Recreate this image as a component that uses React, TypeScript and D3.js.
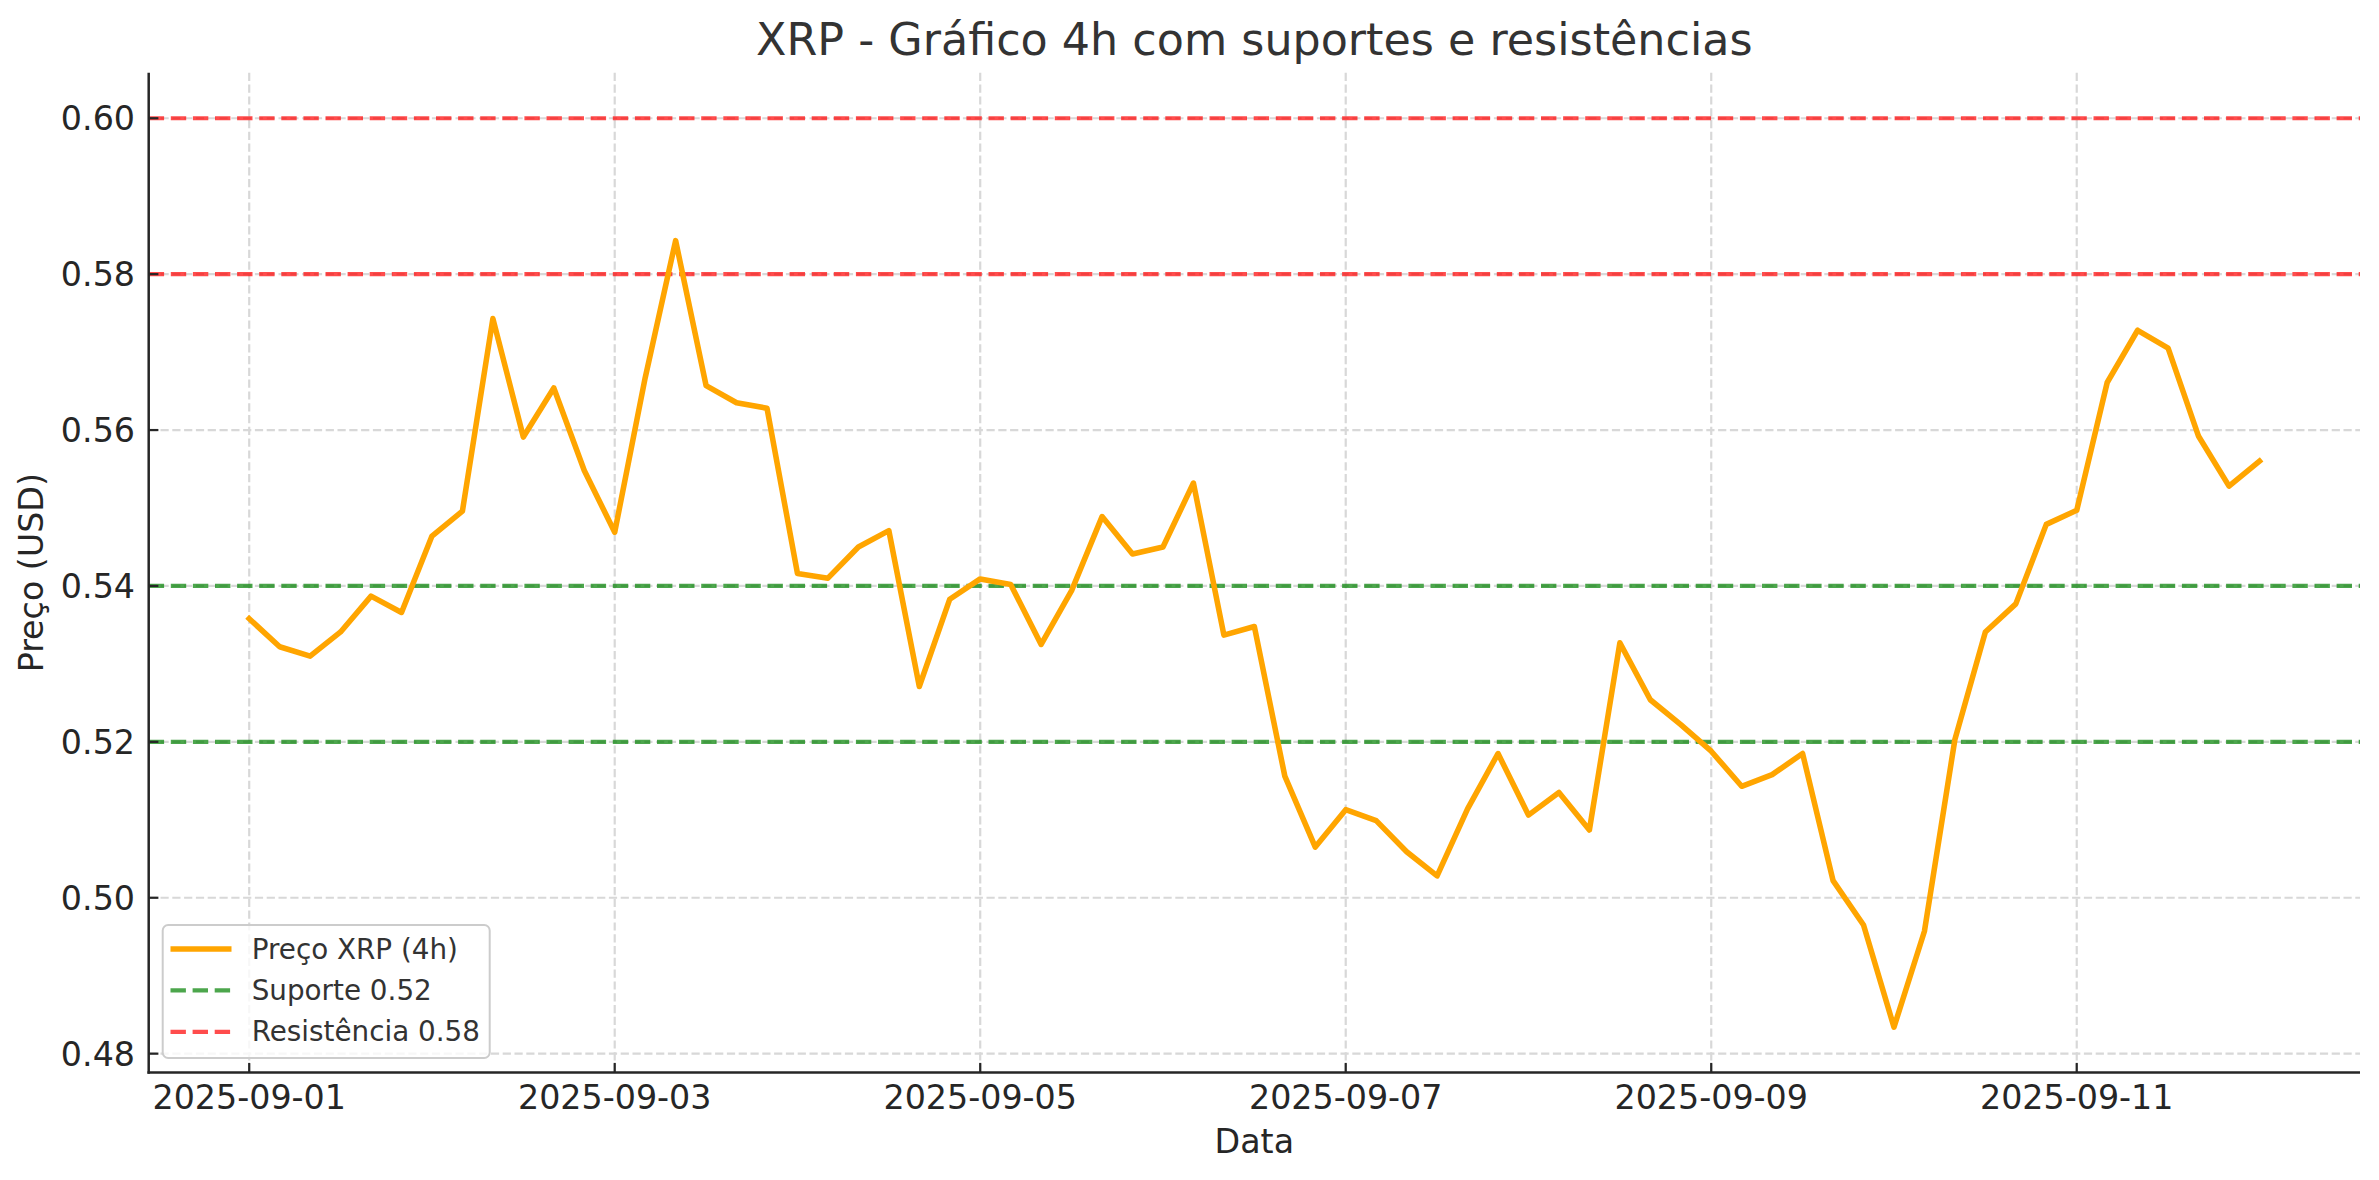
import React from 'react';
import * as d3 from 'd3';

// ---------- data ----------
const START_DATE = '2025-09-01T00:00:00Z';
const STEP_HOURS = 4;

const prices: number[] = [
  0.5358, 0.5322, 0.5310, 0.5341, 0.5387, 0.5366, 0.5464, 0.5496, 0.5743, 0.5591,
  0.5654, 0.5548, 0.5469, 0.5667, 0.5843, 0.5657, 0.5635, 0.5628, 0.5416, 0.5410,
  0.5450, 0.5471, 0.5271, 0.5383, 0.5409, 0.5402, 0.5325, 0.5394, 0.5489, 0.5441,
  0.5450, 0.5532, 0.5337, 0.5348, 0.5156, 0.5065, 0.5113, 0.5099, 0.5059, 0.5028,
  0.5114, 0.5185, 0.5106, 0.5135, 0.5087, 0.5327, 0.5254, 0.5222, 0.5188, 0.5143,
  0.5158, 0.5185, 0.5022, 0.4965, 0.4834, 0.4957, 0.5203, 0.5341, 0.5377, 0.5479,
  0.5497, 0.5661, 0.5728, 0.5705, 0.5592, 0.5528, 0.5560,
];

const supportLevels: number[] = [0.52, 0.54];
const resistanceLevels: number[] = [0.58, 0.60];

const xTickLabels: string[] = [
  '2025-09-01', '2025-09-03', '2025-09-05', '2025-09-07', '2025-09-09', '2025-09-11',
];
const yTickValues: number[] = [0.48, 0.5, 0.52, 0.54, 0.56, 0.58, 0.6];

const legendLabels: string[] = ['Preço XRP (4h)', 'Suporte 0.52', 'Resistência 0.58'];

const TITLE = 'XRP - Gráfico 4h com suportes e resistências';
const X_LABEL = 'Data';
const Y_LABEL = 'Preço (USD)';

// ---------- layout ----------
const W = 2379;
const H = 1180;
const PLOT = { left: 148.7, right: 2360, top: 72.8, bottom: 1072.6 };
const FONT = "'DejaVu Sans', 'Liberation Sans', sans-serif";

const ORANGE = '#FFA500';
const GREEN = '#008000';
const RED = '#FF0000';

export default function App() {
  const start = new Date(START_DATE);
  const dates = prices.map((_, i) => d3.utcHour.offset(start, i * STEP_HOURS));
  const points = dates.map((d, i) => ({ d, v: prices[i] }));

  const xMin = dates[0].getTime();
  const xMax = dates[dates.length - 1].getTime();
  const xPad = (xMax - xMin) * 0.05;
  const x = d3
    .scaleUtc()
    .domain([new Date(xMin - xPad), new Date(xMax + xPad)])
    .range([PLOT.left, PLOT.right]);

  const allY = [...prices, ...supportLevels, ...resistanceLevels];
  const yMinV = d3.min(allY) as number;
  const yMaxV = d3.max(allY) as number;
  const yPad = (yMaxV - yMinV) * 0.05;
  const y = d3
    .scaleLinear()
    .domain([yMinV - yPad, yMaxV + yPad])
    .range([PLOT.bottom, PLOT.top]);

  const parse = d3.utcParse('%Y-%m-%d');
  const fmt = d3.utcFormat('%Y-%m-%d');
  const xTicks = xTickLabels.map((s) => parse(s) as Date);

  const line = d3
    .line<{ d: Date; v: number }>()
    .x((p) => x(p.d))
    .y((p) => y(p.v));

  const gridColor = '#d8d8d8';
  const textColor = '#262626';

  const legendRows = [
    { label: legendLabels[0], color: ORANGE, dash: undefined as string | undefined, width: 5.56, opacity: 1 },
    { label: legendLabels[1], color: GREEN, dash: '15.4 6.7', width: 4.17, opacity: 0.7 },
    { label: legendLabels[2], color: RED, dash: '15.4 6.7', width: 4.17, opacity: 0.7 },
  ];

  return (
    <svg
      width={W}
      height={H}
      viewBox={`0 0 ${W} ${H}`}
      style={{ position: 'absolute', left: 0, top: 0, display: 'block', background: '#fff' }}
      fontFamily={FONT}
    >
      <rect x={0} y={0} width={W} height={H} fill="#ffffff" />
      <defs>
        <clipPath id="plotClip">
          <rect x={PLOT.left} y={PLOT.top} width={PLOT.right - PLOT.left} height={PLOT.bottom - PLOT.top} />
        </clipPath>
      </defs>

      {/* grid */}
      <g>
        {xTicks.map((t, i) => (
          <line
            key={`gx${i}`}
            x1={x(t)}
            x2={x(t)}
            y1={PLOT.top}
            y2={PLOT.bottom}
            stroke={gridColor}
            strokeWidth={2.2}
            strokeDasharray="8.2 3.6"
          />
        ))}
        {yTickValues.map((v, i) => (
          <line
            key={`gy${i}`}
            x1={PLOT.left}
            x2={PLOT.right}
            y1={y(v)}
            y2={y(v)}
            stroke={gridColor}
            strokeWidth={2.2}
            strokeDasharray="8.2 3.6"
          />
        ))}
      </g>

      {/* support / resistance lines */}
      <g clipPath="url(#plotClip)">
        {supportLevels.map((v, i) => (
          <line
            key={`s${i}`}
            x1={PLOT.left}
            x2={PLOT.right}
            y1={y(v)}
            y2={y(v)}
            stroke={GREEN}
            strokeOpacity={0.7}
            strokeWidth={4.17}
            strokeDasharray="15.4 6.7"
          />
        ))}
        {resistanceLevels.map((v, i) => (
          <line
            key={`r${i}`}
            x1={PLOT.left}
            x2={PLOT.right}
            y1={y(v)}
            y2={y(v)}
            stroke={RED}
            strokeOpacity={0.7}
            strokeWidth={4.17}
            strokeDasharray="15.4 6.7"
          />
        ))}
        {/* price line */}
        <path
          d={line(points) || ''}
          fill="none"
          stroke={ORANGE}
          strokeWidth={5.56}
          strokeLinejoin="round"
          strokeLinecap="square"
        />
      </g>

      {/* spines */}
      <line x1={PLOT.left} x2={PLOT.left} y1={PLOT.top} y2={PLOT.bottom + 1.25} stroke={textColor} strokeWidth={2.5} />
      <line x1={PLOT.left - 1.25} x2={PLOT.right} y1={PLOT.bottom} y2={PLOT.bottom} stroke={textColor} strokeWidth={2.5} />

      {/* x ticks */}
      {xTicks.map((t, i) => (
        <g key={`xt${i}`}>
          <line x1={x(t)} x2={x(t)} y1={PLOT.bottom} y2={PLOT.bottom - 9.7} stroke={textColor} strokeWidth={2.2} />
          <text x={x(t)} y={1109} textAnchor="middle" fontSize={33.3} fill={textColor}>
            {fmt(t)}
          </text>
        </g>
      ))}

      {/* y ticks */}
      {yTickValues.map((v, i) => (
        <g key={`yt${i}`}>
          <line x1={PLOT.left} x2={PLOT.left + 9.7} y1={y(v)} y2={y(v)} stroke={textColor} strokeWidth={2.2} />
          <text x={135} y={y(v) + 12} textAnchor="end" fontSize={33.3} fill={textColor}>
            {d3.format('.2f')(v)}
          </text>
        </g>
      ))}

      {/* axis labels */}
      <text x={(PLOT.left + PLOT.right) / 2} y={1153} textAnchor="middle" fontSize={33.3} fill={textColor}>
        {X_LABEL}
      </text>
      <text
        transform={`translate(43.3, ${(PLOT.top + PLOT.bottom) / 2}) rotate(-90)`}
        textAnchor="middle"
        fontSize={33.3}
        fill={textColor}
      >
        {Y_LABEL}
      </text>

      {/* title */}
      <text x={(PLOT.left + PLOT.right) / 2} y={55} textAnchor="middle" fontSize={44.4} fill="#333333">
        {TITLE}
      </text>

      {/* legend */}
      <g>
        <rect
          x={162.7}
          y={925}
          width={327}
          height={133}
          rx={5.5}
          ry={5.5}
          fill="#ffffff"
          fillOpacity={0.8}
          stroke="#cccccc"
          strokeWidth={2}
        />
        {legendRows.map((r, i) => {
          const cy = 949 + i * 41.4;
          return (
            <g key={`lg${i}`}>
              <line
                x1={170.5}
                x2={231.5}
                y1={cy}
                y2={cy}
                stroke={r.color}
                strokeOpacity={r.opacity}
                strokeWidth={r.width}
                strokeDasharray={r.dash}
              />
              <text x={251.7} y={cy + 9.5} fontSize={27.8} fill="#333333">
                {r.label}
              </text>
            </g>
          );
        })}
      </g>
    </svg>
  );
}
